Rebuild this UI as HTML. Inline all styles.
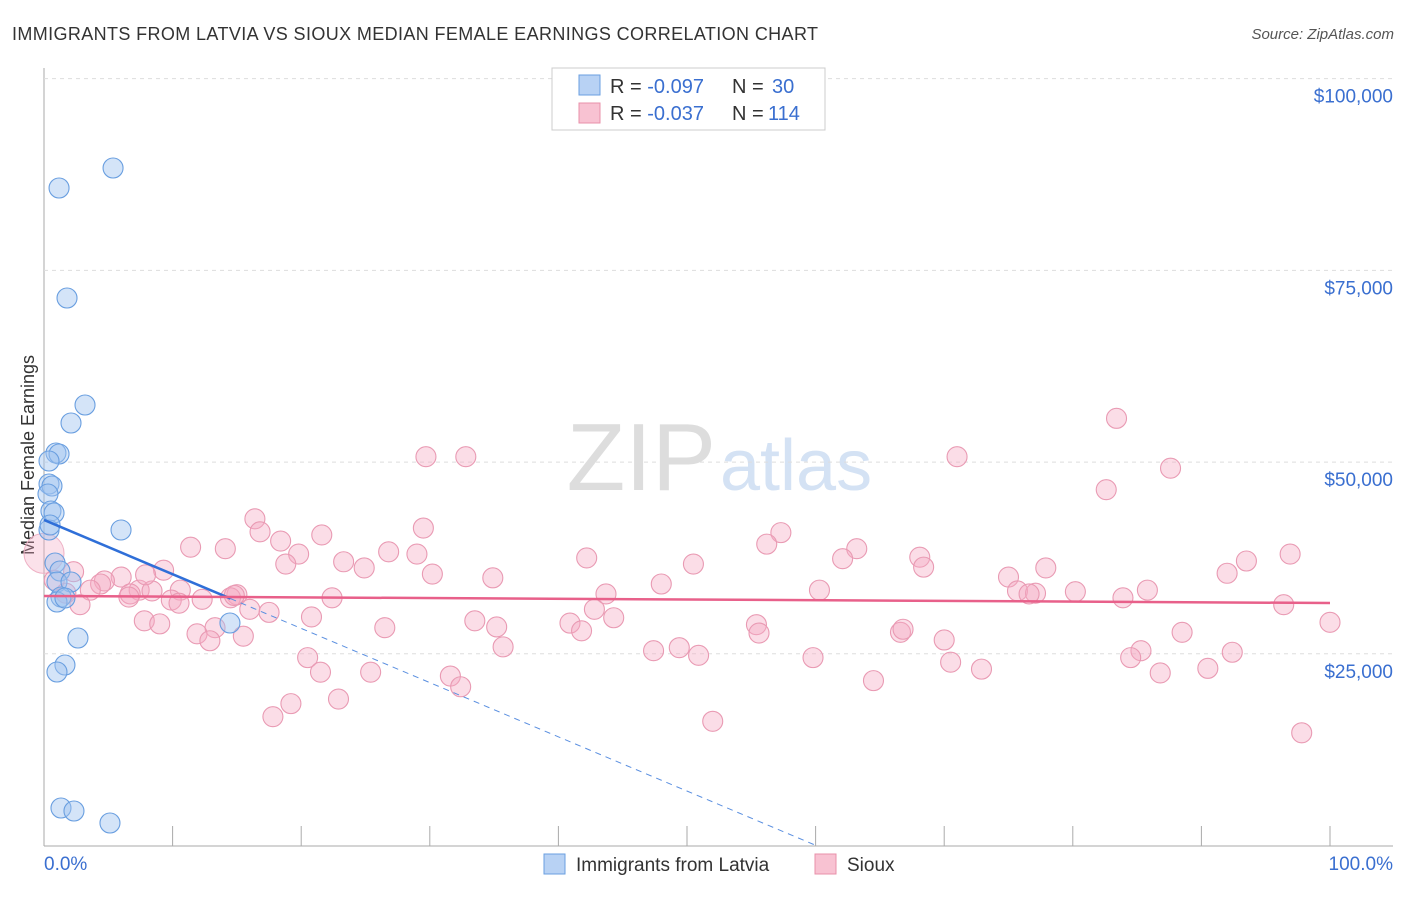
<!DOCTYPE html>
<html><head><meta charset="utf-8"><style>
body{margin:0;background:#fff;font-family:"Liberation Sans",sans-serif}
svg text{font-family:"Liberation Sans",sans-serif}
</style></head><body>
<svg id="c" width="1406" height="892" xmlns="http://www.w3.org/2000/svg">
<text x="12" y="40" font-size="18" fill="#333" textLength="806">IMMIGRANTS FROM LATVIA VS SIOUX MEDIAN FEMALE EARNINGS CORRELATION CHART</text>
<text x="1394" y="39" font-size="15" fill="#555" text-anchor="end" font-style="italic">Source: ZipAtlas.com</text>
<text x="716" y="490" font-size="96" fill="#ddd" text-anchor="end" font-family="Liberation Serif">ZIP</text>
<text x="720" y="490" font-size="72" fill="#d4e2f4">atlas</text>
<text transform="translate(34,455) rotate(-90)" font-size="18" fill="#333" text-anchor="middle">Median Female Earnings</text>
<g id="grid"></g><g id="pts"></g><g id="lines"></g>
<g>
<rect x="552" y="68" width="273" height="62" fill="#fff" stroke="#ccc"/>
<rect x="579" y="75" width="21" height="20" fill="#b8d2f4" stroke="#6a9fe0"/>
<rect x="579" y="103" width="21" height="20" fill="#f8c2d2" stroke="#e890aa"/>
<text x="610" y="93" font-size="20" fill="#333">R = <tspan fill="#3a6fd0">-0.097</tspan></text>
<text x="732" y="93" font-size="20" fill="#333">N = </text>
<text x="772" y="93" font-size="20" fill="#3a6fd0">30</text>
<text x="610" y="120" font-size="20" fill="#333">R = <tspan fill="#3a6fd0">-0.037</tspan></text>
<text x="732" y="120" font-size="20" fill="#333">N = </text>
<text x="768" y="120" font-size="20" fill="#3a6fd0">114</text>
</g>
<rect x="544" y="854" width="21" height="20" fill="#b8d2f4" stroke="#6a9fe0"/>
<text x="576" y="871" font-size="19" fill="#333">Immigrants from Latvia</text>
<rect x="815" y="854" width="21" height="20" fill="#f8c2d2" stroke="#e890aa"/>
<text x="847" y="871" font-size="19" fill="#333">Sioux</text>
</svg>
<script>
const blueX=[5.37,1.17,1.79,3.19,2.10,0.93,1.17,0.39,0.39,0.62,0.31,0.54,0.78,0.39,5.99,0.86,1.24,1.01,2.10,1.32,1.01,1.63,14.46,2.64,1.63,1.01,1.32,2.33,5.13,0.47];
const blueY=[88346,85738,71394,57441,55094,51182,51052,50139,47140,46879,45836,43619,43358,41142,41142,36838,35795,34361,34361,32405,31753,32274,29014,27058,23537,22624,4890,4499,2934,41793];
const pinkX=[83.4,29.7,32.8,71.0,87.6,82.6,16.4,29.5,16.8,21.6,57.3,18.4,11.4,14.1,56.2,63.2,19.8,42.2,68.1,26.8,29.0,23.3,18.8,50.5,24.9,93.5,96.9,68.4,77.9,9.3,92.0,2.3,30.2,6.0,4.7,4.4,34.9,75.0,48.0,62.1,3.6,1.7,7.4,8.4,6.7,6.6,10.6,15.0,14.5,43.7,60.3,75.7,77.1,76.6,80.2,85.8,83.9,9.9,10.5,12.3,22.4,16.0,17.5,2.8,42.8,44.3,20.8,7.8,9.0,33.5,35.2,40.9,55.4,26.5,41.8,55.6,13.3,88.5,11.9,15.5,12.9,66.6,66.8,70.0,100.0,35.7,96.4,47.4,49.4,50.9,85.3,84.5,92.4,20.5,59.8,70.5,90.5,21.5,25.4,72.9,86.8,31.6,32.4,64.5,22.9,19.2,17.8,52.0,97.8,0.8,14.8,7.9];
const pinkY=[55700,50700,50700,50700,49200,46400,42600,41400,40900,40500,40800,39700,38900,38700,39300,38700,38000,37500,37600,38300,38000,37000,36700,36700,36200,37100,38000,36300,36200,35900,35500,35700,35400,35000,34500,34100,34900,35000,34100,37400,33300,32900,33300,33200,32800,32400,33300,32700,32300,32800,33300,33200,32900,32800,33100,33300,32300,32000,31600,32100,32300,30800,30400,31400,30800,29700,29800,29300,28900,29300,28500,29000,28800,28400,28000,27700,28400,27800,27600,27300,26700,27800,28200,26800,29100,25900,31400,25400,25800,24800,25400,24500,25200,24500,24500,23900,23100,22600,22600,23000,22500,22100,20700,21500,19100,18500,16800,16200,14700,34600,32600,35300];
const yTicks=[25000,50000,75000,100000];
const yTickLabels=["$25,000","$50,000","$75,000","$100,000"];
const xTicks=[0,10,20,30,40,50,60,70,80,90,100];
const blueFit=[42450,-707];
const pinkFit=[32540,31620];
const NS="http://www.w3.org/2000/svg";
const sx=v=>44+v*12.86, sy=v=>845.5-v/130.4;
function mk(t,a,p){const e=document.createElementNS(NS,t);for(const k in a)e.setAttribute(k,a[k]);p.appendChild(e);return e;}
const grid=document.getElementById('grid'),pts=document.getElementById('pts'),lines=document.getElementById('lines');
let ax=mk('line',{x1:44,y1:68,x2:44,y2:846,stroke:'#aaa'},grid);


let bx=mk('line',{x1:44,y1:846,x2:1393,y2:846,stroke:'#aaa'},grid);


yTicks.forEach((v,i)=>{
 let g=mk('line',{x1:44,y1:sy(v),x2:1393,y2:sy(v),stroke:'#ddd','stroke-dasharray':'4,4'},grid);
 
 
 let t=mk('text',{x:1393,y:sy(v)+24,'font-size':19,fill:'#3a6fd0','text-anchor':'end'},grid);t.textContent=yTickLabels[i];
 
 
});
xTicks.forEach(v=>{
 let t=mk('line',{x1:sx(v),y1:826,x2:sx(v),y2:846,stroke:'#aaa'},grid);
 
 
});
let l0=mk('text',{x:44,y:870,'font-size':19,fill:'#3a6fd0'},grid);l0.textContent='0.0%';


let l1=mk('text',{x:1393,y:870,'font-size':19,fill:'#3a6fd0','text-anchor':'end'},grid);l1.textContent='100.0%';


let big=mk('circle',{cx:sx(0),cy:sy(38100),r:20,fill:'rgba(244,170,195,0.35)',stroke:'#eeb0c4','stroke-width':1},pts);


pinkX.forEach((x,i)=>{
 let c=mk('circle',{cx:sx(x),cy:sy(pinkY[i]),r:10,fill:'rgba(244,170,195,0.4)',stroke:'#e99ab3','stroke-width':1.1},pts);
 
 
});
blueX.forEach((x,i)=>{
 let c=mk('circle',{cx:sx(x),cy:sy(blueY[i]),r:10,fill:'rgba(160,195,240,0.45)',stroke:'#6a9fe0','stroke-width':1.1},pts);
 
 
});
const bAt=x=>blueFit[0]+blueFit[1]*x;
let bs=mk('line',{x1:sx(0),y1:sy(bAt(0)),x2:sx(14.5),y2:sy(bAt(14.5)),stroke:'#2f6fd8','stroke-width':2.5},lines);


const xEnd=-blueFit[0]/blueFit[1];
let bd=mk('line',{x1:sx(14.5),y1:sy(bAt(14.5)),x2:sx(xEnd),y2:sy(0),stroke:'#5a8fe0','stroke-width':1,'stroke-dasharray':'6,5'},lines);


let pl=mk('line',{x1:sx(0),y1:sy(pinkFit[0]),x2:sx(100),y2:sy(pinkFit[1]),stroke:'#e8608a','stroke-width':2.5},lines);


</script>
</body></html>
